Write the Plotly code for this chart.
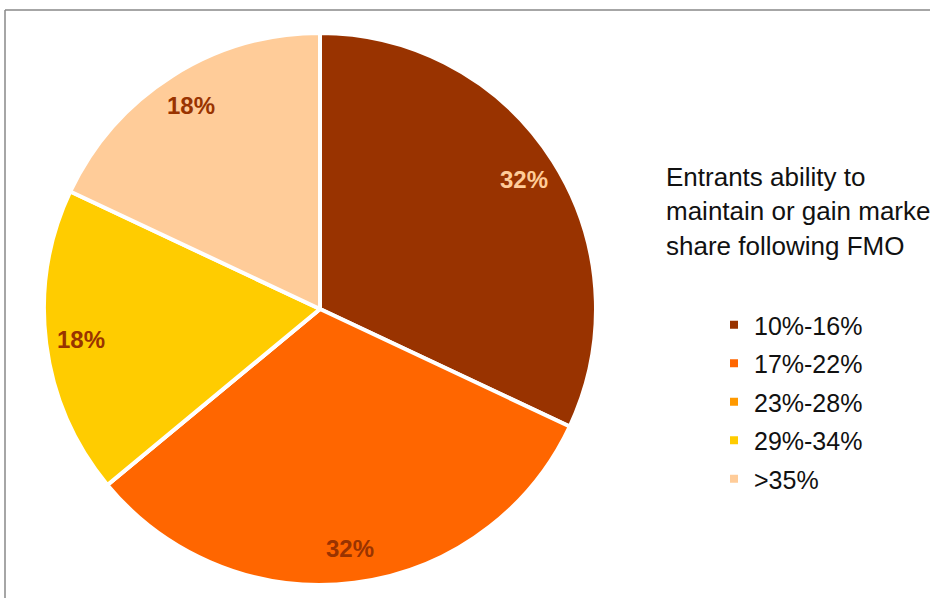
import math
import plotly.graph_objects as go

# Share of entrants by ability band
categories = ["10%-16%", "17%-22%", "23%-28%", "29%-34%", ">35%"]
shares = [32, 32, 0, 18, 18]
slice_colors = ["#993300", "#FF6600", "#FF9900", "#FFCC00", "#FFCC99"]
label_colors = ["#FFCC99", "#993300", "#993300", "#993300", "#993300"]
title_lines = ["Entrants ability to", "maintain or gain market", "share following FMO"]

W, H = 930, 598
FONT = "Liberation Sans"

# Pie geometry in pixels
cx, cy, r = 320, 309, 276
dom_x = [(cx - r) / W, (cx + r) / W]
dom_y = [(H - cy - r) / H, (H - cy + r) / H]

fig = go.Figure()
fig.add_trace(go.Pie(
    labels=categories,
    values=shares,
    sort=False,
    direction="clockwise",
    rotation=0,
    marker=dict(colors=slice_colors, line=dict(color="white", width=4)),
    textinfo="none",
    hoverinfo="label+percent",
    showlegend=False,
    domain=dict(x=dom_x, y=dom_y),
))

# Legend entries as square markers
for i, (cat, col) in enumerate(zip(categories, slice_colors)):
    fig.add_trace(go.Scatter(
        x=[None], y=[None], mode="markers", name=cat,
        legendgroup=f"g{i}",
        marker=dict(symbol="square", size=8, color=col),
    ))

# Percentage labels placed at the middle of each slice
total = sum(shares)
cum = 0
annotations = []
for v, col in zip(shares, label_colors):
    mid = (cum + v / 2) / total
    cum += v
    if v == 0:
        continue
    th = 2 * math.pi * mid
    rr = 0.88 * (r - 2)
    px = cx + rr * math.sin(th)
    py = cy - rr * math.cos(th)
    annotations.append(dict(
        x=px / W, y=1 - py / H, xref="paper", yref="paper",
        text=f"<b>{round(100 * v / total)}%</b>", showarrow=False,
        font=dict(family=FONT, size=24, color=col),
        xanchor="center", yanchor="middle",
    ))

# Legend heading, one line per annotation
for j, line in enumerate(title_lines):
    annotations.append(dict(
        x=664 / W, y=1 - (177 + 34.5 * j) / H, xref="paper", yref="paper",
        text=line, showarrow=False, xanchor="left", yanchor="middle",
        font=dict(family=FONT, size=26, color="#111111"),
    ))

# Frame lines along the top and left
shapes = [
    dict(type="line", xref="paper", yref="paper", x0=5 / W, x1=1, y0=1 - 10 / H, y1=1 - 10 / H,
         line=dict(color="#888888", width=1.5)),
    dict(type="line", xref="paper", yref="paper", x0=5 / W, x1=5 / W, y0=0, y1=1 - 10 / H,
         line=dict(color="#888888", width=1.5)),
]

fig.update_layout(
    width=W, height=H,
    margin=dict(l=0, r=0, t=0, b=0),
    paper_bgcolor="white", plot_bgcolor="white",
    xaxis=dict(visible=False), yaxis=dict(visible=False),
    annotations=annotations,
    shapes=shapes,
    legend=dict(
        x=714 / W, y=1 - 302 / H, xanchor="left", yanchor="top",
        font=dict(family=FONT, size=25, color="#111111"),
        traceorder="grouped", tracegroupgap=3,
        bgcolor="rgba(0,0,0,0)",
    ),
    showlegend=True,
)

fig.write_html("out.html")
